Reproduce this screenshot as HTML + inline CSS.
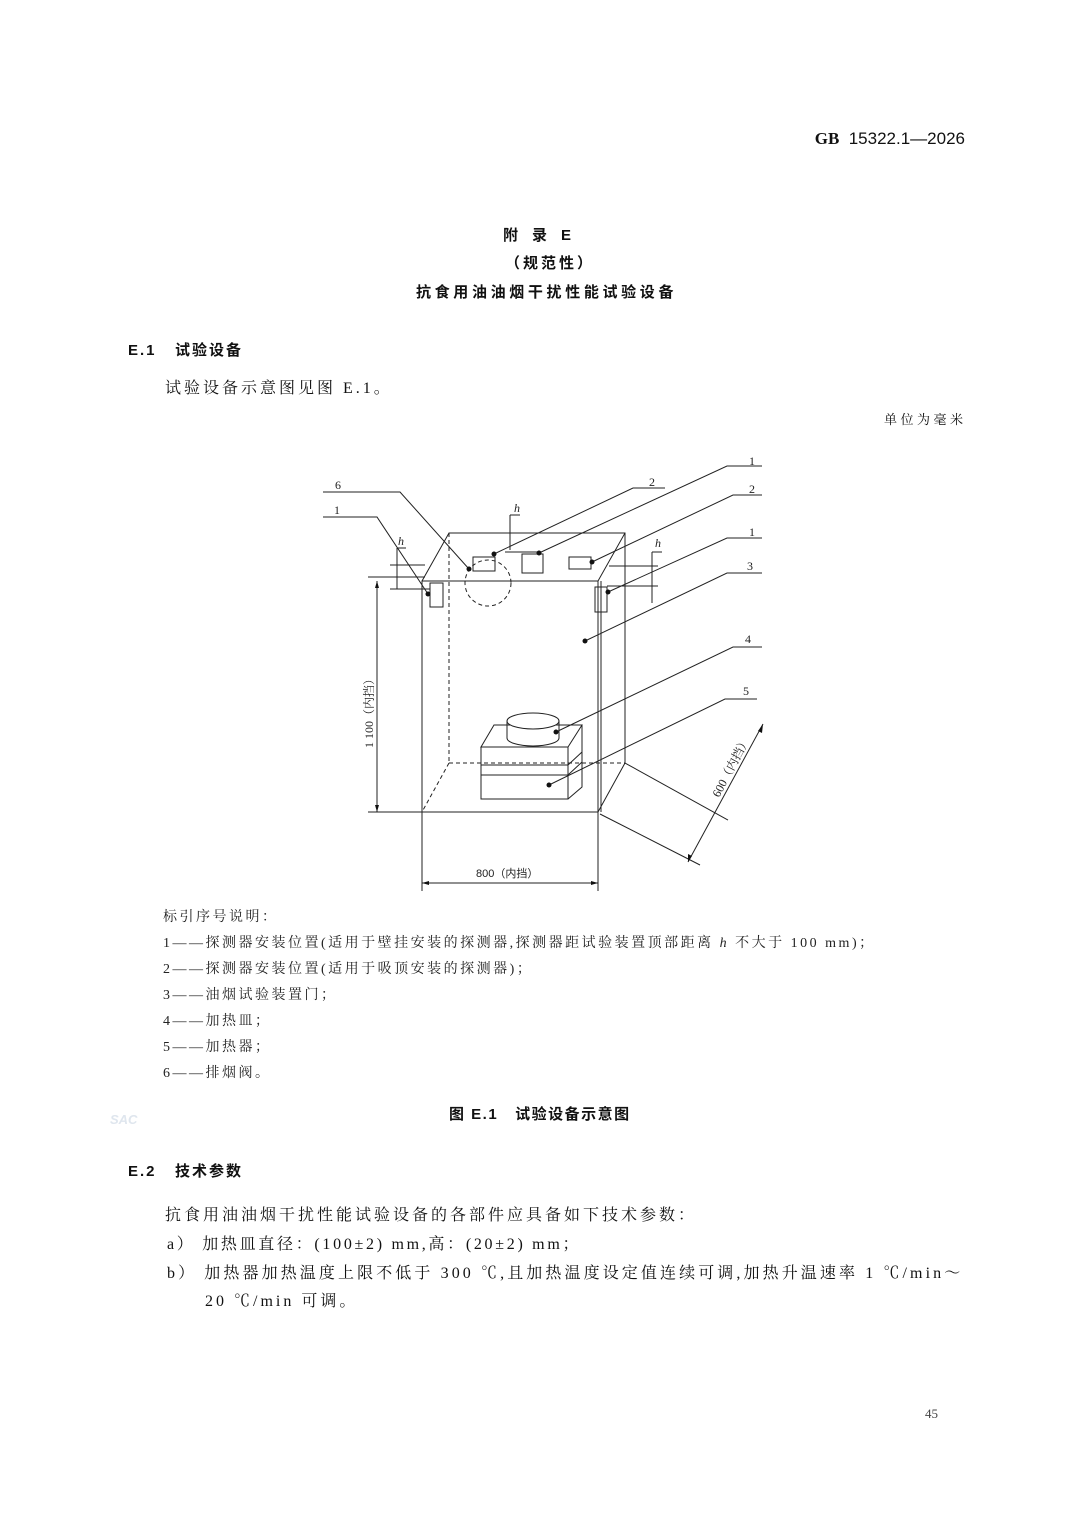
<!DOCTYPE html>
<html><head><meta charset="utf-8"><style>
body{margin:0;width:1080px;height:1527px;background:#fff;position:relative;overflow:hidden;color:#111}
.t{position:absolute;white-space:nowrap;font-family:"Liberation Serif","Noto Serif CJK SC",serif}
.s{font-family:"Liberation Sans","Noto Sans CJK SC",sans-serif;font-weight:bold}
</style></head><body>
<div class="t" style="right:115px;top:129px;font-size:17px;font-family:'Liberation Sans',sans-serif"><b style="font-family:'Liberation Serif',serif">GB</b>&nbsp;&nbsp;15322.1—2026</div>
<div class="t s" style="left:503px;top:224px;font-size:15px;letter-spacing:14px">附录E</div>
<div class="t s" style="left:505px;top:252px;font-size:15px;letter-spacing:3px">（规范性）</div>
<div class="t s" style="left:416px;top:281px;font-size:15px;letter-spacing:3.65px">抗食用油油烟干扰性能试验设备</div>
<div class="t s" style="left:128px;top:339px;font-size:15px;letter-spacing:2px">E.1&nbsp;&nbsp;&nbsp;试验设备</div>
<div class="t" style="left:165px;top:375px;font-size:16px;letter-spacing:3px">试验设备示意图见图 E.1。</div>
<div class="t" style="left:884px;top:409px;font-size:13px;letter-spacing:3.5px">单位为毫米</div>

<svg style="position:absolute;left:0;top:0" width="1080" height="1527" stroke="#222" fill="none" stroke-width="1">
<rect x="422" y="581" width="176" height="231"/>
<line x1="601" y1="581" x2="601" y2="812"/>
<polyline points="422,581 449,533 625,533 625,763 598,812"/>
<line x1="598" y1="581" x2="625" y2="533"/>
<g stroke-dasharray="4,3">
<line x1="449" y1="533" x2="449" y2="763"/><line x1="449" y1="763" x2="625" y2="763"/><line x1="449" y1="763" x2="422" y2="812"/>
<circle cx="488" cy="583" r="23"/></g>
<rect x="473" y="557" width="22" height="14"/><rect x="522" y="554" width="21" height="19"/><rect x="569" y="557" width="22" height="12"/>
<rect x="430" y="583" width="13" height="24"/><rect x="595" y="587" width="12" height="25"/>
<polygon points="481,747 494,725 582,725 568,747"/>
<rect x="481" y="747" width="87" height="52"/>
<polyline points="568,799 582,787 582,725"/>
<line x1="481" y1="765" x2="568" y2="765"/><line x1="481" y1="775" x2="568" y2="775"/>
<line x1="568" y1="765" x2="582" y2="752"/><line x1="568" y1="775" x2="582" y2="762"/>
<ellipse cx="533" cy="721" rx="26" ry="8" fill="#fff"/><path d="M507,721 V738 A26,8 0 0 0 559,738 V721"/>
<line x1="368" y1="577" x2="425" y2="577"/><line x1="368" y1="812" x2="422" y2="812"/>
<line x1="377" y1="581" x2="377" y2="812"/>
<line x1="422" y1="812" x2="422" y2="891"/><line x1="598" y1="812" x2="598" y2="891"/>
<line x1="422" y1="883" x2="598" y2="883"/>
<line x1="600" y1="814" x2="700" y2="865"/><line x1="625" y1="763" x2="728" y2="820"/>
<line x1="763" y1="724" x2="688" y2="862"/>
<line x1="390" y1="565" x2="425" y2="565"/><line x1="390" y1="589" x2="430" y2="589"/><line x1="397" y1="548" x2="397" y2="589"/><line x1="397" y1="548" x2="406" y2="548"/>
<line x1="510" y1="515" x2="520" y2="515"/><line x1="510" y1="515" x2="510" y2="550"/><line x1="505" y1="552" x2="540" y2="552"/>
<line x1="609" y1="566" x2="658" y2="566"/><line x1="607" y1="586" x2="658" y2="586"/><line x1="652" y1="552" x2="652" y2="603"/><line x1="652" y1="552" x2="662" y2="552"/>
<polyline points="323,492 400,492 469,569"/>
<polyline points="323,517 377,517 428,594"/>
<polyline points="665,488 633,488 494,554"/>
<polyline points="762,466 727,466 539,553"/>
<polyline points="762,495 733,495 592,562"/>
<polyline points="762,538 727,538 608,592"/>
<polyline points="762,573 727,573 585,641"/>
<polyline points="762,647 733,647 556,732"/>
<polyline points="757,699 725,699 549,785"/>
<g fill="#111" stroke="none">
<circle cx="469" cy="569" r="2.5"/><circle cx="428" cy="594" r="2.5"/><circle cx="494" cy="554" r="2.5"/><circle cx="539" cy="553" r="2.5"/><circle cx="592" cy="562" r="2.5"/><circle cx="608" cy="592" r="2.5"/><circle cx="585" cy="641" r="2.5"/><circle cx="556" cy="732" r="2.5"/><circle cx="549" cy="785" r="2.5"/>
<polygon points="377,581 375,588 379,588"/><polygon points="377,812 375,805 379,805"/>
<polygon points="422,883 429,881 429,885"/><polygon points="598,883 591,881 591,885"/>
<polygon points="763,724 758,731 762,733"/><polygon points="688,862 688,854 692,856"/>
</g>
<g font-family="Liberation Serif,serif" font-size="12" fill="#222" stroke="none">
<text x="335" y="489">6</text><text x="334" y="514">1</text><text x="649" y="486">2</text><text x="749" y="465">1</text><text x="749" y="493">2</text><text x="749" y="536">1</text><text x="747" y="570">3</text><text x="745" y="643">4</text><text x="743" y="695">5</text>
<text x="398" y="545" font-style="italic">h</text><text x="514" y="512" font-style="italic">h</text><text x="655" y="547" font-style="italic">h</text>
<text x="476" y="877" font-family="Liberation Sans,Noto Sans CJK SC,sans-serif" font-size="11">800（内挡）</text>
<text transform="translate(373,748) rotate(-90)" font-size="12" font-family="Liberation Serif,Noto Serif CJK SC,serif">1 100（内挡）</text>
<text transform="translate(719,798) rotate(-62)" font-size="12" font-family="Liberation Serif,Noto Serif CJK SC,serif">600（内挡）</text>
</g>
</svg>

<div class="t" style="left:163px;top:905px;font-size:14px;letter-spacing:2.5px;line-height:26px;color:#222">标引序号说明：<br>1——探测器安装位置(适用于壁挂安装的探测器,探测器距试验装置顶部距离 <i>h</i> 不大于 100 mm)；<br>2——探测器安装位置(适用于吸顶安装的探测器)；<br>3——油烟试验装置门；<br>4——加热皿；<br>5——加热器；<br>6——排烟阀。</div>
<div class="t" style="left:110px;top:1112px;font-size:13px;color:#dfe6ee;font-family:'Liberation Sans',sans-serif;font-weight:bold;font-style:italic">SAC</div>
<div class="t s" style="left:449px;top:1103px;font-size:15px;letter-spacing:1.5px">图 E.1&nbsp;&nbsp;&nbsp;试验设备示意图</div>
<div class="t s" style="left:128px;top:1160px;font-size:15px;letter-spacing:2px">E.2&nbsp;&nbsp;&nbsp;技术参数</div>
<div class="t" style="left:165px;top:1202px;font-size:16px;letter-spacing:3px">抗食用油油烟干扰性能试验设备的各部件应具备如下技术参数：</div>
<div class="t" style="left:167px;top:1231px;font-size:16px;letter-spacing:2.7px">a）&nbsp;加热皿直径：(100±2) mm,高：(20±2) mm；</div>
<div class="t" style="left:167px;top:1260px;font-size:16px;letter-spacing:3.1px">b）&nbsp;加热器加热温度上限不低于 300 ℃,且加热温度设定值连续可调,加热升温速率 1 ℃/min～</div>
<div class="t" style="left:205px;top:1288px;font-size:16px;letter-spacing:3px">20 ℃/min 可调。</div>
<div class="t" style="left:925px;top:1406px;font-size:13px;color:#444">45</div>
</body></html>
